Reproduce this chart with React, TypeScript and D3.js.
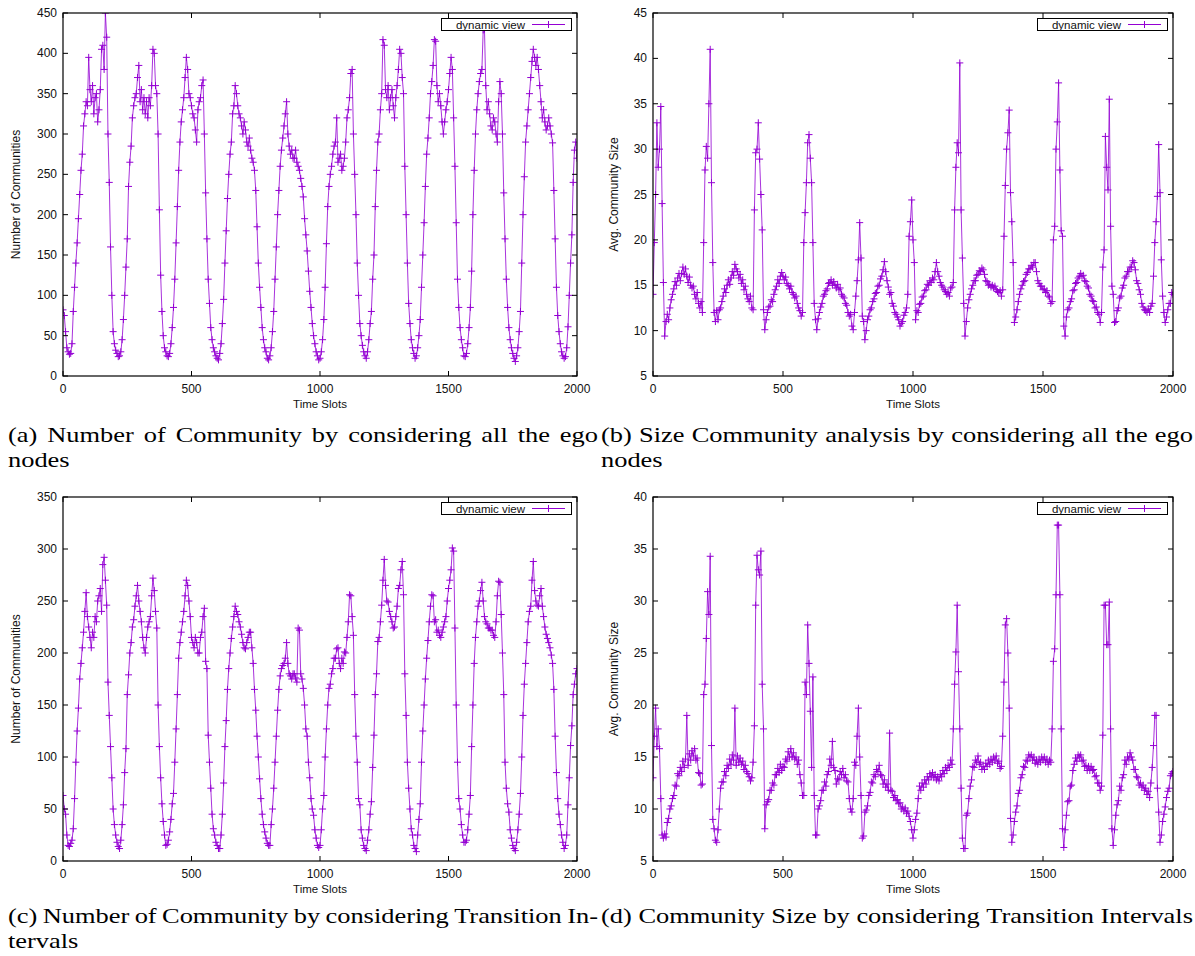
import React from "react";
import * as d3 from "d3";

// time slot of every sample (one value every 5 slots)
const timeSlots = d3.range(0, 2001, 5);
const xTicks = [0, 500, 1000, 1500, 2000];

// (a) number of communities, all ego nodes
const communitiesAll = [
  82, 75, 55, 35, 30, 27, 28, 40, 80, 110, 140, 165, 195, 225, 255, 275, 310, 325, 340, 335,
  395, 355, 340, 360, 325, 345, 350, 315, 330, 355, 405, 410, 380, 450, 420, 300, 240, 160, 100, 55,
  40, 32, 28, 24, 25, 30, 45, 70, 100, 135, 170, 235, 265, 285, 320, 335, 345, 350, 370, 385,
  340, 355, 330, 345, 325, 340, 320, 345, 335, 360, 405, 400, 360, 350, 300, 206, 125, 80, 50, 35,
  30, 25, 24, 28, 40, 60, 85, 120, 165, 210, 255, 290, 315, 330, 345, 370, 395, 380, 350, 345,
  335, 325, 320, 305, 290, 330, 340, 345, 360, 367, 300, 227, 170, 120, 90, 60, 45, 35, 30, 25,
  22, 20, 28, 40, 65, 95, 140, 180, 220, 250, 275, 290, 325, 335, 360, 350, 335, 325, 320, 310,
  300, 315, 305, 290, 285, 295, 280, 270, 265, 255, 230, 185, 140, 110, 85, 60, 45, 35, 30, 22,
  20, 25, 35, 55, 80, 120, 160, 200, 230, 260, 280, 295, 310, 325, 340, 300, 285, 275, 280, 270,
  270, 280, 265, 260, 255, 245, 235, 222, 195, 175, 155, 130, 105, 85, 65, 50, 40, 30, 25, 20,
  22, 30, 45, 70, 110, 164, 210, 235, 250, 260, 275, 285, 290, 320, 265, 270, 275, 255, 260, 270,
  290, 320, 330, 345, 375, 380, 300, 250, 200, 140, 100, 65, 50, 38, 30, 25, 22, 30, 45, 65,
  80, 120, 150, 210, 255, 290, 300, 330, 350, 417, 410, 355, 345, 360, 330, 345, 355, 335, 320, 345,
  360, 380, 405, 400, 370, 350, 260, 200, 140, 90, 65, 45, 35, 28, 22, 25, 35, 50, 70, 110,
  150, 190, 235, 275, 295, 320, 350, 365, 385, 417, 415, 360, 340, 350, 335, 315, 300, 315, 330, 340,
  355, 375, 395, 380, 320, 260, 190, 120, 85, 60, 45, 35, 25, 24, 28, 40, 60, 85, 130, 200,
  255, 300, 330, 350, 365, 375, 380, 429, 430, 360, 330, 340, 325, 310, 305, 320, 315, 300, 290, 340,
  365, 350, 300, 227, 170, 120, 85, 60, 45, 35, 28, 22, 18, 25, 35, 55, 80, 140, 200, 247,
  290, 310, 330, 350, 370, 390, 405, 395, 385, 395, 380, 360, 340, 320, 330, 315, 305, 310, 320, 310,
  300, 289, 230, 170, 110, 75, 55, 40, 30, 25, 22, 24, 35, 61, 100, 140, 175, 240, 280, 290,
  270,
];

// (b) average community size, all ego nodes
const sizeAll = [
  14, 19.7, 25, 32.9, 28, 30, 34.7, 24, 15.3, 9.4, 11, 11.8, 11.2, 12.5, 13.4, 14, 14.6, 15.4, 15, 15.8,
  16.3, 15.5, 16.3, 17, 16.2, 16.8, 16, 15.3, 15.9, 15, 14.7, 14.9, 14, 13.5, 14.2, 13, 12.5, 13.2, 12, 19.7,
  27.7, 30.3, 29, 35, 41, 26.3, 17.5, 12, 11, 12.2, 11.2, 12.3, 12.5, 13.2, 13.8, 14.6, 14.2, 15, 15.6, 15.1,
  15.8, 16.5, 16.1, 17.3, 16.8, 16.5, 15.8, 16.2, 15.2, 15.6, 14.5, 14.9, 14, 13.5, 13.2, 13.8, 12.5, 12.3, 23.3, 29.6,
  30, 32.9, 28.9, 25, 21.1, 12.3, 10.1, 11.2, 12, 12.6, 12.7, 13.4, 13.2, 14, 14.5, 14.9, 15.6, 15.2, 16, 16.4,
  16, 15.6, 15.9, 15.2, 15, 14.6, 14.9, 14.2, 14, 13.6, 13.8, 13, 12.5, 12.2, 11.6, 12, 19.7, 23, 26.3, 30.7,
  31.6, 29, 26.3, 19.7, 13, 11.2, 10.1, 11.3, 12, 12.6, 13, 13.8, 14, 14.4, 14.6, 15.2, 15.3, 15.6, 15, 15.4,
  15, 14.7, 15.1, 14.5, 14.7, 14, 13.8, 13.6, 13, 12.8, 12, 11.6, 11.8, 10.5, 10.1, 12, 13.8, 15.5, 17.8, 21.9,
  18, 11.6, 11, 9, 10, 11.2, 11.6, 12.3, 12.5, 13.2, 13.5, 14.1, 14.2, 14.9, 15, 15.7, 16, 16.7, 17.6, 16.5,
  15.5, 14.8, 14, 14.2, 13, 12.7, 12, 11.8, 11.5, 11.2, 10.5, 10.8, 11, 11.7, 12, 12.5, 14, 20.4, 22, 24.4,
  20, 17.5, 11.2, 12.2, 12, 12.9, 13, 13.7, 13.8, 14.4, 14.5, 15.1, 15, 15.5, 15.3, 15.8, 15.6, 16.5, 17.5, 16.5,
  16, 15.3, 15, 14.8, 14.5, 14.3, 14, 14.2, 13.8, 14.7, 14.8, 15.3, 23.3, 28, 30.7, 29.6, 39.5, 23.3, 18, 13,
  9.4, 11, 12.5, 13.4, 14, 14.6, 15, 15.5, 15.5, 16.1, 16.2, 16.6, 16.5, 16.9, 16.7, 16.2, 15.5, 15.4, 15, 15.1,
  14.8, 15, 14.7, 14.9, 14.5, 14.3, 14.2, 14.4, 13.8, 14.5, 20.4, 26, 30, 31.8, 34.3, 25.2, 22, 17.5, 10.9, 11.5,
  12.3, 13.2, 14, 14.6, 15, 15.4, 15.5, 16.2, 16.4, 16.8, 16.8, 17.2, 17, 17.5, 17.5, 16.5, 15.5, 15.2, 14.9, 14.9,
  14.5, 14.6, 14.2, 14.4, 13.8, 13.7, 13, 13.2, 20, 21.5, 30, 33, 37.3, 27.7, 21, 20.4, 10.5, 9.4, 11.5, 12.3,
  12.5, 13.2, 13.5, 14.4, 14.5, 15.2, 15.3, 15.8, 16, 16.3, 16, 16.1, 15.5, 15.4, 14.9, 14.7, 14, 13.8, 13.3, 13.2,
  12.5, 12.6, 12, 11.8, 10.9, 12, 17, 18.9, 31.4, 28, 25.5, 35.5, 21.5, 14.9, 14, 10.9, 11, 12.2, 12.5, 13.6,
  13.8, 14.7, 15, 15.8, 16, 16.5, 16.5, 17, 17, 17.7, 17.5, 16.7, 15.5, 15.2, 14.5, 14, 13, 12.6, 12.3, 12.2,
  12, 12.4, 12, 12.7, 13, 16, 19.7, 22, 24.8, 30.5, 25.2, 17.8, 13.8, 12, 10.9, 11.5, 12.3, 13, 13, 14.2,
  14,
];

// (c) number of communities, transition intervals
const communitiesTransition = [
  63, 50, 45, 25, 15, 14, 17, 20, 31, 60, 95, 125, 147, 175, 190, 205, 220, 240, 258, 235,
  225, 215, 205, 220, 215, 235, 230, 250, 255, 262, 240, 285, 292, 270, 246, 172, 140, 110, 80, 50,
  35, 25, 18, 14, 12, 20, 35, 54, 85, 108, 160, 179, 200, 210, 225, 232, 245, 255, 265, 250,
  240, 230, 215, 205, 200, 215, 225, 230, 235, 255, 272, 260, 240, 224, 150, 110, 80, 55, 38, 25,
  15, 16, 20, 28, 40, 55, 65, 95, 127, 160, 195, 210, 220, 230, 240, 255, 270, 265, 250, 235,
  215, 210, 205, 215, 210, 200, 200, 215, 220, 235, 243, 192, 185, 121, 95, 70, 45, 31, 25, 18,
  15, 12, 12, 25, 45, 75, 110, 135, 165, 185, 200, 214, 225, 235, 245, 240, 237, 230, 225, 218,
  210, 205, 204, 210, 215, 220, 220, 205, 190, 165, 145, 120, 100, 79, 60, 45, 35, 28, 22, 17,
  15, 15, 35, 50, 70, 95, 120, 145, 165, 178, 185, 188, 190, 195, 210, 190, 180, 178, 175, 180,
  180, 176, 172, 224, 222, 180, 175, 166, 150, 127, 120, 95, 80, 60, 50, 44, 30, 22, 15, 13,
  15, 30, 50, 63, 100, 127, 150, 166, 170, 180, 185, 195, 195, 204, 205, 190, 185, 195, 190, 201,
  200, 215, 230, 256, 255, 235, 217, 160, 120, 95, 60, 54, 30, 22, 15, 12, 10, 20, 30, 45,
  57, 90, 121, 160, 180, 211, 215, 230, 246, 270, 290, 265, 250, 249, 240, 235, 230, 224, 225, 235,
  245, 262, 265, 280, 288, 256, 180, 140, 95, 70, 50, 31, 25, 15, 12, 9, 25, 40, 55, 95,
  125, 150, 175, 195, 212, 230, 245, 256, 255, 230, 232, 220, 222, 217, 215, 220, 225, 230, 235, 250,
  262, 270, 280, 301, 298, 224, 150, 95, 60, 50, 35, 25, 18, 18, 20, 30, 45, 63, 110, 150,
  190, 215, 230, 245, 250, 260, 268, 250, 235, 230, 228, 224, 224, 222, 222, 217, 215, 230, 255, 269,
  268, 237, 200, 160, 95, 70, 55, 47, 30, 22, 15, 12, 10, 18, 30, 45, 65, 100, 140, 170,
  190, 210, 230, 240, 245, 270, 288, 260, 250, 246, 245, 255, 262, 245, 235, 225, 218, 214, 210, 205,
  198, 190, 165, 120, 85, 60, 45, 35, 25, 18, 12, 15, 25, 54, 80, 111, 130, 160, 170, 180,
  185,
];

// (d) average community size, transition intervals
const sizeTransition = [
  13, 17, 19.7, 16, 17.7, 15.8, 11, 7.5, 7.2, 7.6, 7.3, 8.7, 9.1, 10, 10.3, 11, 11.3, 12.3, 12.2, 13.4,
  13.2, 14, 13.6, 14.6, 14, 14.8, 19, 14.2, 15.3, 14.7, 15.6, 15.1, 15.8, 14.7, 14.9, 13.5, 13.4, 12.3, 12.4, 21,
  22, 26.4, 30.9, 28.7, 34.3, 16.1, 9, 8.1, 7, 6.8, 8, 10, 12, 12.6, 12.6, 13.6, 13.2, 14.2, 13.9, 14.8,
  14.3, 15.2, 14.7, 19.7, 14.2, 15.1, 14.5, 14.9, 14.3, 14.6, 13.8, 14.2, 13.6, 13.4, 13.1, 12.7, 13, 14.5, 18, 29.6,
  34.4, 33, 32.5, 34.8, 22, 17.7, 8.1, 10.4, 10.7, 10.9, 11.8, 11.8, 12.5, 12.3, 13.3, 13.3, 13.9, 13.5, 14.3, 13.7,
  14.1, 14, 14.8, 14.6, 15.5, 15, 15.8, 15, 15.4, 14.8, 15, 14.3, 14.7, 13.3, 12.5, 11.3, 11.3, 22.2, 21, 27.7,
  24, 19.4, 14, 22.7, 11.3, 7.5, 7.5, 10, 10.3, 10.8, 11.8, 11.8, 12.6, 12.2, 13.3, 13.6, 14.8, 14.2, 16.5, 14,
  13.7, 12.4, 12.9, 12.8, 13.6, 13.3, 13.9, 13, 13.3, 12.7, 12.6, 11, 10, 9.7, 11, 14.5, 14.2, 17, 19.7, 15,
  11.3, 7.2, 7.4, 9.7, 9.9, 10.3, 11.3, 11.6, 12.6, 12.5, 13.3, 13.1, 13.8, 13.6, 14.2, 13.3, 13.2, 12.4, 12.8, 12.1,
  12.4, 11.8, 17.3, 11.8, 11.7, 11.1, 11.3, 10.8, 10.9, 10.5, 10.6, 10, 10.2, 9.8, 10.1, 9.6, 9.8, 9.3, 8.8, 8,
  7.2, 8, 9, 9.6, 11, 12.2, 11.8, 12.5, 12.1, 12.8, 12.4, 13.1, 12.8, 13.4, 13.1, 13.5, 13, 13.3, 12.8, 13.1,
  12.7, 13.3, 13.1, 13.7, 13.4, 14, 13.7, 14.2, 14, 14.7, 14.3, 17.7, 22, 25.1, 29.6, 23.2, 17.7, 12, 7.2, 6.2,
  6.2, 9.4, 9.6, 11, 12.2, 12.8, 14.1, 14, 14.7, 14.5, 15.1, 14.3, 14.5, 13.8, 14.1, 13.8, 14.4, 14.1, 14.7, 14.3,
  14.8, 14.5, 15, 14.7, 15.1, 14.4, 14.6, 13.9, 14.1, 17, 22.2, 27.7, 28.3, 25, 19.7, 9.1, 6.8, 7.5, 8.8, 9.7,
  10.3, 11.5, 11.8, 13, 13.3, 14.1, 14, 14.7, 14.6, 15.2, 15, 15.2, 14.7, 15, 14.4, 14.7, 14.3, 14.8, 14.5, 15,
  14.7, 15, 14.5, 14.8, 14.3, 14.7, 14.5, 17.7, 24.2, 25.4, 30.6, 37.3, 37.3, 30.6, 17.7, 8.1, 6.3, 8, 9.4, 10.7,
  10.8, 12.2, 12.3, 13.7, 14.3, 14.9, 14.6, 15.2, 15, 15.2, 14.6, 14.7, 14.1, 14.2, 13.7, 14.1, 13.7, 14.1, 13.7, 13.8,
  13.1, 13.2, 12.5, 12.5, 11.8, 12.2, 17.1, 29.6, 29.6, 25.8, 25.8, 29.9, 17.7, 8.1, 6.5, 8, 9.4, 10.4, 10.8, 12.2,
  11.8, 13, 13.3, 14.7, 14.3, 15, 14.8, 15.4, 15, 14.7, 13.8, 13.8, 13.1, 13, 12.3, 12.5, 12.1, 12.3, 11.8, 12,
  11.4, 11.7, 11.1, 12.5, 14, 16.1, 19, 19, 12, 9.7, 6.8, 7.5, 8.8, 9.5, 10.2, 11.1, 11.7, 12, 13.2, 13.4,
  13.6,
];

const ticksCommAll = [0, 50, 100, 150, 200, 250, 300, 350, 400, 450];
const ticksSizeAll = [5, 10, 15, 20, 25, 30, 35, 40, 45];
const ticksCommTrans = [0, 50, 100, 150, 200, 250, 300, 350];
const ticksSizeTrans = [5, 10, 15, 20, 25, 30, 35, 40];

const captionA = ["(a) Number of Community by considering all the ego", "nodes"];
const captionB = ["(b) Size Community analysis by considering all the ego", "nodes"];
const captionC = ["(c) Number of Community by considering Transition In-", "tervals"];
const captionD = ["(d) Community Size by considering Transition Intervals"];

const PURPLE = "#9400d3";
const SANS = "'Liberation Sans', Arial, Helvetica, sans-serif";
const SERIF = "'Liberation Serif', 'Times New Roman', serif";
const CAPTION_SIZE = 20;

const ctx = document.createElement("canvas").getContext("2d");
function measure(t) {
  ctx.font = `${CAPTION_SIZE}px ${SERIF}`;
  return ctx.measureText(t).width;
}
// the caption font in the figure is wider than Times, stretch glyphs horizontally
const stretch = (1193 - 601) / measure(captionD[0]);

// place the words of each caption line, first lines justified between x0 and x1
function Caption({ lines, x0, x1, y }) {
  return (
    <g fontFamily={SERIF} fontSize={CAPTION_SIZE} fill="#000">
      {lines.map((line, li) => {
        const words = line.split(" ");
        const w = words.map((s) => measure(s) * stretch);
        const justify = li < lines.length - 1;
        const gap = justify && words.length > 1 ? (x1 - x0 - d3.sum(w)) / (words.length - 1) : measure(" ") * stretch;
        let cx = x0;
        return words.map((word, i) => {
          const el = (
            <text key={li + "-" + i} transform={`translate(${cx},${y + li * 24.5}) scale(${stretch},1)`}>
              {word}
            </text>
          );
          cx += w[i] + gap;
          return el;
        });
      })}
    </g>
  );
}

function Panel({ id, values, yDomain, yTicks, yLabel, left, top, right, bottom, labelX }) {
  const x = d3.scaleLinear().domain([0, 2000]).range([left, right]);
  const y = d3.scaleLinear().domain(yDomain).range([bottom, top]);
  const pts = values.map((v, i) => [x(timeSlots[i]), y(v)]);
  const path = d3.line()(pts);
  const marks = pts.map(([px, py]) => `M${px - 3.5},${py}h7M${px},${py - 3.5}v7`).join("");
  const tl = 5;
  const ly = top + 11.5;

  return (
    <g>
      <clipPath id={id}>
        <rect x={left} y={top} width={right - left} height={bottom - top} />
      </clipPath>
      <g clipPath={`url(#${id})`} fill="none" stroke={PURPLE}>
        <path d={path} strokeWidth={1} strokeOpacity={0.8} />
        <path d={marks} strokeWidth={1} />
      </g>

      {/* ticks, mirrored on all four sides */}
      <g stroke="#000" strokeWidth={1}>
        {xTicks.map((t) => (
          <g key={"x" + t}>
            <line x1={x(t)} x2={x(t)} y1={bottom} y2={bottom - tl} />
            <line x1={x(t)} x2={x(t)} y1={top} y2={top + tl} />
          </g>
        ))}
        {yTicks.map((t) => (
          <g key={"y" + t}>
            <line x1={left} x2={left + tl} y1={y(t)} y2={y(t)} />
            <line x1={right} x2={right - tl} y1={y(t)} y2={y(t)} />
          </g>
        ))}
      </g>
      <rect x={left} y={top} width={right - left} height={bottom - top} fill="none" stroke="#000" strokeWidth={1.2} />

      <g fontFamily={SANS} fontSize={12} fill="#111">
        {xTicks.map((t) => (
          <text key={t} x={x(t)} y={bottom + 17} textAnchor="middle">{t}</text>
        ))}
        {yTicks.map((t) => (
          <text key={t} x={left - 6} y={y(t)} textAnchor="end" dominantBaseline="central">{t}</text>
        ))}
      </g>
      <text x={(left + right) / 2} y={bottom + 32} textAnchor="middle" fontFamily={SANS} fontSize={11.5} fill="#111">
        Time Slots
      </text>
      <text
        transform={`translate(${labelX},${(top + bottom) / 2}) rotate(-90)`}
        textAnchor="middle"
        dominantBaseline="central"
        fontFamily={SANS}
        fontSize={12}
        fill="#111"
      >
        {yLabel}
      </text>

      {/* legend */}
      <rect x={right - 135.5} y={top + 5.5} width={130} height={12} fill="#fff" stroke="#000" strokeWidth={1} />
      <text x={right - 52} y={ly} textAnchor="end" dominantBaseline="central" fontFamily={SANS} fontSize={11.5} fill="#111">
        dynamic view
      </text>
      <g stroke={PURPLE} strokeWidth={1}>
        <line x1={right - 45} x2={right - 12} y1={ly} y2={ly} />
        <line x1={right - 28.5} x2={right - 28.5} y1={ly - 3.5} y2={ly + 3.5} />
      </g>
    </g>
  );
}

export default function App() {
  return (
    <svg
      width={1195}
      height={956}
      style={{ position: "absolute", left: 0, top: 0, background: "#fff" }}
    >
      <Panel id="pa" values={communitiesAll} yDomain={[0, 450]} yTicks={ticksCommAll}
        yLabel="Number of Communities" left={63} top={13} right={577} bottom={376} labelX={16} />
      <Panel id="pb" values={sizeAll} yDomain={[5, 45]} yTicks={ticksSizeAll}
        yLabel="Avg. Community Size" left={653} top={13} right={1173} bottom={376} labelX={614} />
      <Panel id="pc" values={communitiesTransition} yDomain={[0, 350]} yTicks={ticksCommTrans}
        yLabel="Number of Communities" left={63} top={497} right={577} bottom={861} labelX={16} />
      <Panel id="pd" values={sizeTransition} yDomain={[5, 40]} yTicks={ticksSizeTrans}
        yLabel="Avg. Community Size" left={653} top={497} right={1173} bottom={861} labelX={614} />

      <Caption lines={captionA} x0={8} x1={598} y={442} />
      <Caption lines={captionB} x0={601} x1={1193} y={442} />
      <Caption lines={captionC} x0={8} x1={598} y={923} />
      <Caption lines={captionD} x0={601} x1={1193} y={923} />
    </svg>
  );
}
